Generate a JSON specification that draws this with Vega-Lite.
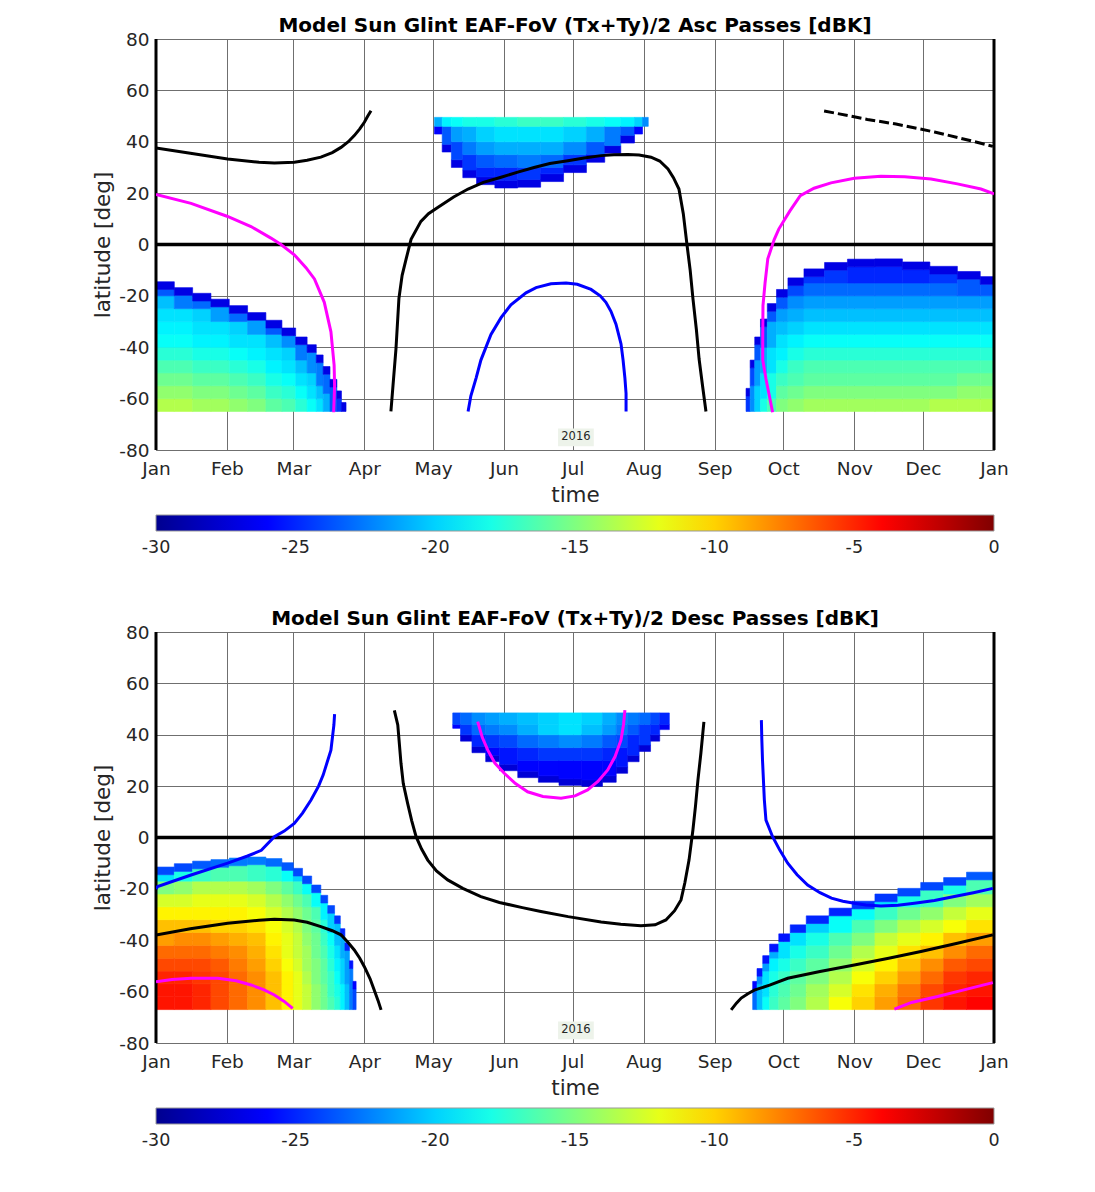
{
"$schema": "https://vega.github.io/schema/vega-lite/v6.json",
"background": "white",
"padding": {"left": 92, "top": 15, "right": 10, "bottom": 10},
"spacing": 50,
"config": {
  "font": "DejaVu Sans",
  "view": {"stroke": "#5a5a5a", "strokeWidth": 1},
  "axis": {"labelFont": "DejaVu Sans", "labelFontSize": 18.5, "labelColor": "#262626", "titleFont": "DejaVu Sans", "titleFontSize": 21.5, "titleFontWeight": "normal", "titleColor": "#262626", "domain": false, "ticks": false, "gridColor": "#6f6f6f", "gridWidth": 1, "zindex": 1, "labelFlush": false},
  "axisX": {"labelPadding": 9, "titlePadding": 7},
  "axisY": {"labelPadding": 7, "titlePadding": 4},
  "title": {"font": "DejaVu Sans", "fontSize": 20, "fontWeight": "bold", "color": "#000000", "offset": -5.5, "anchor": "middle"},
  "legend": {"gradientHorizontalMaxLength": 1000, "labelFont": "DejaVu Sans", "labelFontSize": 17.5, "labelColor": "#262626"}
},
"resolve": {"scale": {"color": "independent"}, "legend": {"color": "independent"}},
"datasets": {
"h1": [
{"d0":0,"d1":8,"y0":-65,"y1":-60,"v":-13.5},{"d0":0,"d1":8,"y0":-60,"y1":-55,"v":-14.5},{"d0":0,"d1":8,"y0":-55,"y1":-50,"v":-15.5},{"d0":0,"d1":8,"y0":-50,"y1":-45,"v":-16.5},{"d0":0,"d1":8,"y0":-45,"y1":-40,"v":-17.5},{"d0":0,"d1":8,"y0":-40,"y1":-35,"v":-18.5},{"d0":0,"d1":8,"y0":-35,"y1":-30,"v":-19},{"d0":0,"d1":8,"y0":-30,"y1":-25,"v":-19.5},{"d0":0,"d1":8,"y0":-25,"y1":-20,"v":-20.5},{"d0":0,"d1":8,"y0":-20,"y1":-17.5,"v":-23.5},{"d0":0,"d1":8,"y0":-17.5,"y1":-14.5,"v":-27},
{"d0":8,"d1":16,"y0":-65,"y1":-60,"v":-13.5},{"d0":8,"d1":16,"y0":-60,"y1":-55,"v":-14.5},{"d0":8,"d1":16,"y0":-55,"y1":-50,"v":-15.5},{"d0":8,"d1":16,"y0":-50,"y1":-45,"v":-16.5},{"d0":8,"d1":16,"y0":-45,"y1":-40,"v":-17.5},{"d0":8,"d1":16,"y0":-40,"y1":-35,"v":-18.5},{"d0":8,"d1":16,"y0":-35,"y1":-30,"v":-19},{"d0":8,"d1":16,"y0":-30,"y1":-25,"v":-19.5},{"d0":8,"d1":16,"y0":-25,"y1":-19.8,"v":-22.5},{"d0":8,"d1":16,"y0":-19.8,"y1":-16.8,"v":-27},
{"d0":16,"d1":24,"y0":-65,"y1":-60,"v":-14},{"d0":16,"d1":24,"y0":-60,"y1":-55,"v":-15},{"d0":16,"d1":24,"y0":-55,"y1":-50,"v":-16},{"d0":16,"d1":24,"y0":-50,"y1":-45,"v":-17},{"d0":16,"d1":24,"y0":-45,"y1":-40,"v":-18},{"d0":16,"d1":24,"y0":-40,"y1":-35,"v":-19},{"d0":16,"d1":24,"y0":-35,"y1":-30,"v":-19.5},{"d0":16,"d1":24,"y0":-30,"y1":-25,"v":-20},{"d0":16,"d1":24,"y0":-25,"y1":-22,"v":-23},{"d0":16,"d1":24,"y0":-22,"y1":-19,"v":-27},
{"d0":24,"d1":32,"y0":-65,"y1":-60,"v":-14},{"d0":24,"d1":32,"y0":-60,"y1":-55,"v":-15},{"d0":24,"d1":32,"y0":-55,"y1":-50,"v":-16},{"d0":24,"d1":32,"y0":-50,"y1":-45,"v":-17},{"d0":24,"d1":32,"y0":-45,"y1":-40,"v":-18},{"d0":24,"d1":32,"y0":-40,"y1":-35,"v":-19},{"d0":24,"d1":32,"y0":-35,"y1":-30,"v":-19.5},{"d0":24,"d1":32,"y0":-30,"y1":-24.3,"v":-21.5},{"d0":24,"d1":32,"y0":-24.3,"y1":-21.3,"v":-27},
{"d0":32,"d1":40,"y0":-65,"y1":-60,"v":-14.5},{"d0":32,"d1":40,"y0":-60,"y1":-55,"v":-15.5},{"d0":32,"d1":40,"y0":-55,"y1":-50,"v":-16.5},{"d0":32,"d1":40,"y0":-50,"y1":-45,"v":-17.5},{"d0":32,"d1":40,"y0":-45,"y1":-40,"v":-18.5},{"d0":32,"d1":40,"y0":-40,"y1":-35,"v":-19.5},{"d0":32,"d1":40,"y0":-35,"y1":-30,"v":-20},{"d0":32,"d1":40,"y0":-30,"y1":-26.8,"v":-23},{"d0":32,"d1":40,"y0":-26.8,"y1":-23.8,"v":-27},
{"d0":40,"d1":48,"y0":-65,"y1":-60,"v":-15},{"d0":40,"d1":48,"y0":-60,"y1":-55,"v":-16},{"d0":40,"d1":48,"y0":-55,"y1":-50,"v":-17},{"d0":40,"d1":48,"y0":-50,"y1":-45,"v":-18},{"d0":40,"d1":48,"y0":-45,"y1":-40,"v":-19},{"d0":40,"d1":48,"y0":-40,"y1":-35,"v":-19.5},{"d0":40,"d1":48,"y0":-35,"y1":-29.5,"v":-21.5},{"d0":40,"d1":48,"y0":-29.5,"y1":-26.5,"v":-27},
{"d0":48,"d1":55,"y0":-65,"y1":-60,"v":-16},{"d0":48,"d1":55,"y0":-60,"y1":-55,"v":-17},{"d0":48,"d1":55,"y0":-55,"y1":-50,"v":-18},{"d0":48,"d1":55,"y0":-50,"y1":-45,"v":-19},{"d0":48,"d1":55,"y0":-45,"y1":-40,"v":-19.5},{"d0":48,"d1":55,"y0":-40,"y1":-35,"v":-20.5},{"d0":48,"d1":55,"y0":-35,"y1":-32.5,"v":-23.5},{"d0":48,"d1":55,"y0":-32.5,"y1":-29.5,"v":-27},
{"d0":55,"d1":61,"y0":-65,"y1":-60,"v":-16.5},{"d0":55,"d1":61,"y0":-60,"y1":-55,"v":-17.5},{"d0":55,"d1":61,"y0":-55,"y1":-50,"v":-18.5},{"d0":55,"d1":61,"y0":-50,"y1":-45,"v":-19.5},{"d0":55,"d1":61,"y0":-45,"y1":-40,"v":-20},{"d0":55,"d1":61,"y0":-40,"y1":-35.5,"v":-22},{"d0":55,"d1":61,"y0":-35.5,"y1":-32.5,"v":-27},
{"d0":61,"d1":66,"y0":-65,"y1":-60,"v":-17.5},{"d0":61,"d1":66,"y0":-60,"y1":-55,"v":-18.5},{"d0":61,"d1":66,"y0":-55,"y1":-50,"v":-19.5},{"d0":61,"d1":66,"y0":-50,"y1":-45,"v":-20.5},{"d0":61,"d1":66,"y0":-45,"y1":-39,"v":-22.5},{"d0":61,"d1":66,"y0":-39,"y1":-36,"v":-27},
{"d0":66,"d1":70,"y0":-65,"y1":-60,"v":-18.5},{"d0":66,"d1":70,"y0":-60,"y1":-55,"v":-19.5},{"d0":66,"d1":70,"y0":-55,"y1":-50,"v":-20},{"d0":66,"d1":70,"y0":-50,"y1":-42,"v":-22},{"d0":66,"d1":70,"y0":-42,"y1":-39,"v":-27},
{"d0":70,"d1":73,"y0":-65,"y1":-60,"v":-19.5},{"d0":70,"d1":73,"y0":-60,"y1":-55,"v":-20.5},{"d0":70,"d1":73,"y0":-55,"y1":-46,"v":-22.5},{"d0":70,"d1":73,"y0":-46,"y1":-43,"v":-27},
{"d0":73,"d1":76,"y0":-65,"y1":-58,"v":-21},{"d0":73,"d1":76,"y0":-58,"y1":-50.5,"v":-23},{"d0":73,"d1":76,"y0":-50.5,"y1":-47.5,"v":-27},
{"d0":76,"d1":79,"y0":-65,"y1":-55.5,"v":-23.5},{"d0":76,"d1":79,"y0":-55.5,"y1":-52.5,"v":-27},
{"d0":79,"d1":81,"y0":-65,"y1":-60,"v":-24.5},{"d0":79,"d1":81,"y0":-60,"y1":-57,"v":-27},
{"d0":81,"d1":83,"y0":-65,"y1":-61.5,"v":-27},
{"d0":121.6,"d1":125,"y0":43,"y1":46,"v":-26},{"d0":121.6,"d1":125,"y0":46,"y1":49.5,"v":-21},
{"d0":125,"d1":129,"y0":36,"y1":39,"v":-27},{"d0":125,"d1":129,"y0":39,"y1":46,"v":-23.5},{"d0":125,"d1":129,"y0":46,"y1":49.5,"v":-19},
{"d0":129,"d1":134,"y0":30,"y1":33,"v":-27},{"d0":129,"d1":134,"y0":33,"y1":40,"v":-24},{"d0":129,"d1":134,"y0":40,"y1":46,"v":-21.5},{"d0":129,"d1":134,"y0":46,"y1":49.5,"v":-18.5},
{"d0":134,"d1":140,"y0":26,"y1":29,"v":-27},{"d0":134,"d1":140,"y0":29,"y1":35,"v":-24.5},{"d0":134,"d1":140,"y0":35,"y1":40,"v":-22.5},{"d0":134,"d1":140,"y0":40,"y1":46,"v":-21},{"d0":134,"d1":140,"y0":46,"y1":49.5,"v":-18},
{"d0":140,"d1":148,"y0":23.3,"y1":26.3,"v":-27},{"d0":140,"d1":148,"y0":26.3,"y1":30,"v":-25},{"d0":140,"d1":148,"y0":30,"y1":35,"v":-23.5},{"d0":140,"d1":148,"y0":35,"y1":40,"v":-21.5},{"d0":140,"d1":148,"y0":40,"y1":46,"v":-20},{"d0":140,"d1":148,"y0":46,"y1":49.5,"v":-18},
{"d0":148,"d1":158,"y0":22,"y1":25,"v":-27},{"d0":148,"d1":158,"y0":25,"y1":30,"v":-25},{"d0":148,"d1":158,"y0":30,"y1":35,"v":-23},{"d0":148,"d1":158,"y0":35,"y1":40,"v":-21},{"d0":148,"d1":158,"y0":40,"y1":46,"v":-19.5},{"d0":148,"d1":158,"y0":46,"y1":49.5,"v":-17.5},
{"d0":158,"d1":168,"y0":22.3,"y1":25.3,"v":-27},{"d0":158,"d1":168,"y0":25.3,"y1":30,"v":-24.5},{"d0":158,"d1":168,"y0":30,"y1":35,"v":-22.5},{"d0":158,"d1":168,"y0":35,"y1":40,"v":-21},{"d0":158,"d1":168,"y0":40,"y1":46,"v":-19.5},{"d0":158,"d1":168,"y0":46,"y1":49.5,"v":-17},
{"d0":168,"d1":178,"y0":24.5,"y1":27.5,"v":-27},{"d0":168,"d1":178,"y0":27.5,"y1":30,"v":-25},{"d0":168,"d1":178,"y0":30,"y1":35,"v":-23},{"d0":168,"d1":178,"y0":35,"y1":40,"v":-21},{"d0":168,"d1":178,"y0":40,"y1":46,"v":-19.5},{"d0":168,"d1":178,"y0":46,"y1":49.5,"v":-17},
{"d0":178,"d1":188,"y0":28,"y1":31,"v":-27},{"d0":178,"d1":188,"y0":31,"y1":35,"v":-24.5},{"d0":178,"d1":188,"y0":35,"y1":40,"v":-22},{"d0":178,"d1":188,"y0":40,"y1":46,"v":-20},{"d0":178,"d1":188,"y0":46,"y1":49.5,"v":-17.5},
{"d0":188,"d1":196,"y0":32,"y1":35,"v":-27},{"d0":188,"d1":196,"y0":35,"y1":40,"v":-23.5},{"d0":188,"d1":196,"y0":40,"y1":46,"v":-21},{"d0":188,"d1":196,"y0":46,"y1":49.5,"v":-18},
{"d0":196,"d1":203,"y0":35.5,"y1":38.5,"v":-27},{"d0":196,"d1":203,"y0":38.5,"y1":46,"v":-22.5},{"d0":196,"d1":203,"y0":46,"y1":49.5,"v":-18.5},
{"d0":203,"d1":209,"y0":39.5,"y1":42.5,"v":-27},{"d0":203,"d1":209,"y0":42.5,"y1":46,"v":-23.5},{"d0":203,"d1":209,"y0":46,"y1":49.5,"v":-19},
{"d0":209,"d1":212.5,"y0":43,"y1":46,"v":-26},{"d0":209,"d1":212.5,"y0":46,"y1":49.5,"v":-20},
{"d0":212.5,"d1":215,"y0":46,"y1":49.5,"v":-22},
{"d0":257.7,"d1":259.5,"y0":-65,"y1":-59,"v":-24.5},{"d0":257.7,"d1":259.5,"y0":-59,"y1":-56,"v":-27},
{"d0":259.5,"d1":261.5,"y0":-65,"y1":-55,"v":-22},{"d0":259.5,"d1":261.5,"y0":-55,"y1":-48,"v":-24},{"d0":259.5,"d1":261.5,"y0":-48,"y1":-45,"v":-27},
{"d0":261.5,"d1":264,"y0":-65,"y1":-55,"v":-20},{"d0":261.5,"d1":264,"y0":-55,"y1":-45,"v":-21.5},{"d0":261.5,"d1":264,"y0":-45,"y1":-39,"v":-23.5},{"d0":261.5,"d1":264,"y0":-39,"y1":-36,"v":-27},
{"d0":264,"d1":267,"y0":-65,"y1":-60,"v":-18},{"d0":264,"d1":267,"y0":-60,"y1":-50,"v":-19.5},{"d0":264,"d1":267,"y0":-50,"y1":-40,"v":-21},{"d0":264,"d1":267,"y0":-40,"y1":-32,"v":-23.5},{"d0":264,"d1":267,"y0":-32,"y1":-29,"v":-27},
{"d0":267,"d1":271,"y0":-65,"y1":-60,"v":-16.5},{"d0":267,"d1":271,"y0":-60,"y1":-50,"v":-18},{"d0":267,"d1":271,"y0":-50,"y1":-40,"v":-19.5},{"d0":267,"d1":271,"y0":-40,"y1":-30,"v":-21},{"d0":267,"d1":271,"y0":-30,"y1":-26,"v":-23.5},{"d0":267,"d1":271,"y0":-26,"y1":-23,"v":-27},
{"d0":271,"d1":276,"y0":-65,"y1":-60,"v":-15},{"d0":271,"d1":276,"y0":-60,"y1":-55,"v":-16},{"d0":271,"d1":276,"y0":-55,"y1":-50,"v":-17},{"d0":271,"d1":276,"y0":-50,"y1":-45,"v":-18},{"d0":271,"d1":276,"y0":-45,"y1":-40,"v":-19},{"d0":271,"d1":276,"y0":-40,"y1":-35,"v":-19.5},{"d0":271,"d1":276,"y0":-35,"y1":-30,"v":-20.5},{"d0":271,"d1":276,"y0":-30,"y1":-25,"v":-21.5},{"d0":271,"d1":276,"y0":-25,"y1":-20.5,"v":-23.5},{"d0":271,"d1":276,"y0":-20.5,"y1":-17.5,"v":-27},
{"d0":276,"d1":283,"y0":-65,"y1":-60,"v":-14.5},{"d0":276,"d1":283,"y0":-60,"y1":-55,"v":-15.5},{"d0":276,"d1":283,"y0":-55,"y1":-50,"v":-16.5},{"d0":276,"d1":283,"y0":-50,"y1":-45,"v":-17},{"d0":276,"d1":283,"y0":-45,"y1":-40,"v":-18},{"d0":276,"d1":283,"y0":-40,"y1":-35,"v":-19},{"d0":276,"d1":283,"y0":-35,"y1":-30,"v":-20},{"d0":276,"d1":283,"y0":-30,"y1":-25,"v":-21},{"d0":276,"d1":283,"y0":-25,"y1":-20,"v":-22},{"d0":276,"d1":283,"y0":-20,"y1":-16,"v":-24},{"d0":276,"d1":283,"y0":-16,"y1":-13,"v":-27},
{"d0":283,"d1":292,"y0":-65,"y1":-60,"v":-14},{"d0":283,"d1":292,"y0":-60,"y1":-55,"v":-15},{"d0":283,"d1":292,"y0":-55,"y1":-50,"v":-16},{"d0":283,"d1":292,"y0":-50,"y1":-45,"v":-16.5},{"d0":283,"d1":292,"y0":-45,"y1":-40,"v":-17.5},{"d0":283,"d1":292,"y0":-40,"y1":-35,"v":-18.5},{"d0":283,"d1":292,"y0":-35,"y1":-30,"v":-19.5},{"d0":283,"d1":292,"y0":-30,"y1":-25,"v":-20.5},{"d0":283,"d1":292,"y0":-25,"y1":-20,"v":-21.5},{"d0":283,"d1":292,"y0":-20,"y1":-15,"v":-23},{"d0":283,"d1":292,"y0":-15,"y1":-12.5,"v":-24.5},{"d0":283,"d1":292,"y0":-12.5,"y1":-9.5,"v":-27},
{"d0":292,"d1":302,"y0":-65,"y1":-60,"v":-14},{"d0":292,"d1":302,"y0":-60,"y1":-55,"v":-15},{"d0":292,"d1":302,"y0":-55,"y1":-50,"v":-16},{"d0":292,"d1":302,"y0":-50,"y1":-45,"v":-16.5},{"d0":292,"d1":302,"y0":-45,"y1":-40,"v":-17.5},{"d0":292,"d1":302,"y0":-40,"y1":-35,"v":-18.5},{"d0":292,"d1":302,"y0":-35,"y1":-30,"v":-19.5},{"d0":292,"d1":302,"y0":-30,"y1":-25,"v":-20.5},{"d0":292,"d1":302,"y0":-25,"y1":-20,"v":-21.5},{"d0":292,"d1":302,"y0":-20,"y1":-15,"v":-23},{"d0":292,"d1":302,"y0":-15,"y1":-10,"v":-24.5},{"d0":292,"d1":302,"y0":-10,"y1":-7,"v":-27},
{"d0":302,"d1":314,"y0":-65,"y1":-60,"v":-14},{"d0":302,"d1":314,"y0":-60,"y1":-55,"v":-15},{"d0":302,"d1":314,"y0":-55,"y1":-50,"v":-16},{"d0":302,"d1":314,"y0":-50,"y1":-45,"v":-16.5},{"d0":302,"d1":314,"y0":-45,"y1":-40,"v":-17.5},{"d0":302,"d1":314,"y0":-40,"y1":-35,"v":-18.5},{"d0":302,"d1":314,"y0":-35,"y1":-30,"v":-19.5},{"d0":302,"d1":314,"y0":-30,"y1":-25,"v":-20.5},{"d0":302,"d1":314,"y0":-25,"y1":-20,"v":-21.5},{"d0":302,"d1":314,"y0":-20,"y1":-15,"v":-23},{"d0":302,"d1":314,"y0":-15,"y1":-8.7,"v":-25},{"d0":302,"d1":314,"y0":-8.7,"y1":-5.7,"v":-27},
{"d0":314,"d1":326,"y0":-65,"y1":-60,"v":-14},{"d0":314,"d1":326,"y0":-60,"y1":-55,"v":-15},{"d0":314,"d1":326,"y0":-55,"y1":-50,"v":-16},{"d0":314,"d1":326,"y0":-50,"y1":-45,"v":-16.5},{"d0":314,"d1":326,"y0":-45,"y1":-40,"v":-17.5},{"d0":314,"d1":326,"y0":-40,"y1":-35,"v":-18.5},{"d0":314,"d1":326,"y0":-35,"y1":-30,"v":-19.5},{"d0":314,"d1":326,"y0":-30,"y1":-25,"v":-20.5},{"d0":314,"d1":326,"y0":-25,"y1":-20,"v":-21.5},{"d0":314,"d1":326,"y0":-20,"y1":-15,"v":-23},{"d0":314,"d1":326,"y0":-15,"y1":-8.6,"v":-25},{"d0":314,"d1":326,"y0":-8.6,"y1":-5.6,"v":-27},
{"d0":326,"d1":338,"y0":-65,"y1":-60,"v":-14},{"d0":326,"d1":338,"y0":-60,"y1":-55,"v":-15},{"d0":326,"d1":338,"y0":-55,"y1":-50,"v":-16},{"d0":326,"d1":338,"y0":-50,"y1":-45,"v":-16.5},{"d0":326,"d1":338,"y0":-45,"y1":-40,"v":-17.5},{"d0":326,"d1":338,"y0":-40,"y1":-35,"v":-18.5},{"d0":326,"d1":338,"y0":-35,"y1":-30,"v":-19.5},{"d0":326,"d1":338,"y0":-30,"y1":-25,"v":-20.5},{"d0":326,"d1":338,"y0":-25,"y1":-20,"v":-21.5},{"d0":326,"d1":338,"y0":-20,"y1":-15,"v":-23},{"d0":326,"d1":338,"y0":-15,"y1":-9.8,"v":-25},{"d0":326,"d1":338,"y0":-9.8,"y1":-6.8,"v":-27},
{"d0":338,"d1":350,"y0":-65,"y1":-60,"v":-13.5},{"d0":338,"d1":350,"y0":-60,"y1":-55,"v":-15},{"d0":338,"d1":350,"y0":-55,"y1":-50,"v":-16},{"d0":338,"d1":350,"y0":-50,"y1":-45,"v":-16.5},{"d0":338,"d1":350,"y0":-45,"y1":-40,"v":-17.5},{"d0":338,"d1":350,"y0":-40,"y1":-35,"v":-18.5},{"d0":338,"d1":350,"y0":-35,"y1":-30,"v":-19.5},{"d0":338,"d1":350,"y0":-30,"y1":-25,"v":-20.5},{"d0":338,"d1":350,"y0":-25,"y1":-20,"v":-21.5},{"d0":338,"d1":350,"y0":-20,"y1":-15,"v":-23},{"d0":338,"d1":350,"y0":-15,"y1":-11.5,"v":-24.5},{"d0":338,"d1":350,"y0":-11.5,"y1":-8.5,"v":-27},
{"d0":350,"d1":360,"y0":-65,"y1":-60,"v":-13.5},{"d0":350,"d1":360,"y0":-60,"y1":-55,"v":-14.5},{"d0":350,"d1":360,"y0":-55,"y1":-50,"v":-15.5},{"d0":350,"d1":360,"y0":-50,"y1":-45,"v":-16.5},{"d0":350,"d1":360,"y0":-45,"y1":-40,"v":-17.5},{"d0":350,"d1":360,"y0":-40,"y1":-35,"v":-18.5},{"d0":350,"d1":360,"y0":-35,"y1":-30,"v":-19.5},{"d0":350,"d1":360,"y0":-30,"y1":-25,"v":-20.5},{"d0":350,"d1":360,"y0":-25,"y1":-20,"v":-21.5},{"d0":350,"d1":360,"y0":-20,"y1":-13.5,"v":-23.5},{"d0":350,"d1":360,"y0":-13.5,"y1":-10.5,"v":-27},
{"d0":360,"d1":366,"y0":-65,"y1":-60,"v":-13.5},{"d0":360,"d1":366,"y0":-60,"y1":-55,"v":-14.5},{"d0":360,"d1":366,"y0":-55,"y1":-50,"v":-15.5},{"d0":360,"d1":366,"y0":-50,"y1":-45,"v":-16.5},{"d0":360,"d1":366,"y0":-45,"y1":-40,"v":-17.5},{"d0":360,"d1":366,"y0":-40,"y1":-35,"v":-18.5},{"d0":360,"d1":366,"y0":-35,"y1":-30,"v":-19.5},{"d0":360,"d1":366,"y0":-30,"y1":-25,"v":-20.5},{"d0":360,"d1":366,"y0":-25,"y1":-20,"v":-21.5},{"d0":360,"d1":366,"y0":-20,"y1":-15.5,"v":-23.5},{"d0":360,"d1":366,"y0":-15.5,"y1":-12.5,"v":-27}
],
"h2": [
{"d0":0,"d1":8,"y0":-67,"y1":-62,"v":-4.5},{"d0":0,"d1":8,"y0":-62,"y1":-57,"v":-4.5},{"d0":0,"d1":8,"y0":-57,"y1":-52,"v":-5},{"d0":0,"d1":8,"y0":-52,"y1":-47,"v":-6},{"d0":0,"d1":8,"y0":-47,"y1":-42,"v":-7},{"d0":0,"d1":8,"y0":-42,"y1":-37,"v":-8.5},{"d0":0,"d1":8,"y0":-37,"y1":-32,"v":-9.5},{"d0":0,"d1":8,"y0":-32,"y1":-27,"v":-11},{"d0":0,"d1":8,"y0":-27,"y1":-22,"v":-12.5},{"d0":0,"d1":8,"y0":-22,"y1":-17,"v":-15},{"d0":0,"d1":8,"y0":-17,"y1":-14.5,"v":-19.5},{"d0":0,"d1":8,"y0":-14.5,"y1":-11.5,"v":-24},
{"d0":8,"d1":16,"y0":-67,"y1":-62,"v":-4.5},{"d0":8,"d1":16,"y0":-62,"y1":-57,"v":-4.5},{"d0":8,"d1":16,"y0":-57,"y1":-52,"v":-5},{"d0":8,"d1":16,"y0":-52,"y1":-47,"v":-6},{"d0":8,"d1":16,"y0":-47,"y1":-42,"v":-7},{"d0":8,"d1":16,"y0":-42,"y1":-37,"v":-8},{"d0":8,"d1":16,"y0":-37,"y1":-32,"v":-9.5},{"d0":8,"d1":16,"y0":-32,"y1":-27,"v":-11},{"d0":8,"d1":16,"y0":-27,"y1":-22,"v":-12.5},{"d0":8,"d1":16,"y0":-22,"y1":-17,"v":-14.5},{"d0":8,"d1":16,"y0":-17,"y1":-13.2,"v":-18},{"d0":8,"d1":16,"y0":-13.2,"y1":-10.2,"v":-24},
{"d0":16,"d1":24,"y0":-67,"y1":-62,"v":-5},{"d0":16,"d1":24,"y0":-62,"y1":-57,"v":-5},{"d0":16,"d1":24,"y0":-57,"y1":-52,"v":-5.5},{"d0":16,"d1":24,"y0":-52,"y1":-47,"v":-6},{"d0":16,"d1":24,"y0":-47,"y1":-42,"v":-7},{"d0":16,"d1":24,"y0":-42,"y1":-37,"v":-8},{"d0":16,"d1":24,"y0":-37,"y1":-32,"v":-9.5},{"d0":16,"d1":24,"y0":-32,"y1":-27,"v":-11},{"d0":16,"d1":24,"y0":-27,"y1":-22,"v":-12},{"d0":16,"d1":24,"y0":-22,"y1":-17,"v":-13.5},{"d0":16,"d1":24,"y0":-17,"y1":-12.2,"v":-17},{"d0":16,"d1":24,"y0":-12.2,"y1":-9.2,"v":-23.5},
{"d0":24,"d1":32,"y0":-67,"y1":-62,"v":-6},{"d0":24,"d1":32,"y0":-62,"y1":-57,"v":-6},{"d0":24,"d1":32,"y0":-57,"y1":-52,"v":-6},{"d0":24,"d1":32,"y0":-52,"y1":-47,"v":-6.5},{"d0":24,"d1":32,"y0":-47,"y1":-42,"v":-7.5},{"d0":24,"d1":32,"y0":-42,"y1":-37,"v":-8.5},{"d0":24,"d1":32,"y0":-37,"y1":-32,"v":-10},{"d0":24,"d1":32,"y0":-32,"y1":-27,"v":-11},{"d0":24,"d1":32,"y0":-27,"y1":-22,"v":-12},{"d0":24,"d1":32,"y0":-22,"y1":-17,"v":-13.5},{"d0":24,"d1":32,"y0":-17,"y1":-11.6,"v":-16.5},{"d0":24,"d1":32,"y0":-11.6,"y1":-8.6,"v":-23},
{"d0":32,"d1":40,"y0":-67,"y1":-62,"v":-7},{"d0":32,"d1":40,"y0":-62,"y1":-57,"v":-7},{"d0":32,"d1":40,"y0":-57,"y1":-52,"v":-7},{"d0":32,"d1":40,"y0":-52,"y1":-47,"v":-7.5},{"d0":32,"d1":40,"y0":-47,"y1":-42,"v":-8},{"d0":32,"d1":40,"y0":-42,"y1":-37,"v":-9},{"d0":32,"d1":40,"y0":-37,"y1":-32,"v":-10},{"d0":32,"d1":40,"y0":-32,"y1":-27,"v":-11},{"d0":32,"d1":40,"y0":-27,"y1":-22,"v":-12},{"d0":32,"d1":40,"y0":-22,"y1":-17,"v":-13.5},{"d0":32,"d1":40,"y0":-17,"y1":-11,"v":-16.5},{"d0":32,"d1":40,"y0":-11,"y1":-8,"v":-22.5},
{"d0":40,"d1":48,"y0":-67,"y1":-62,"v":-8},{"d0":40,"d1":48,"y0":-62,"y1":-57,"v":-8},{"d0":40,"d1":48,"y0":-57,"y1":-52,"v":-8},{"d0":40,"d1":48,"y0":-52,"y1":-47,"v":-8.5},{"d0":40,"d1":48,"y0":-47,"y1":-42,"v":-9},{"d0":40,"d1":48,"y0":-42,"y1":-37,"v":-9.5},{"d0":40,"d1":48,"y0":-37,"y1":-32,"v":-10.5},{"d0":40,"d1":48,"y0":-32,"y1":-27,"v":-11.5},{"d0":40,"d1":48,"y0":-27,"y1":-22,"v":-12.5},{"d0":40,"d1":48,"y0":-22,"y1":-17,"v":-14},{"d0":40,"d1":48,"y0":-17,"y1":-10.6,"v":-17},{"d0":40,"d1":48,"y0":-10.6,"y1":-7.6,"v":-22.5},
{"d0":48,"d1":55,"y0":-67,"y1":-62,"v":-9.5},{"d0":48,"d1":55,"y0":-62,"y1":-57,"v":-9.5},{"d0":48,"d1":55,"y0":-57,"y1":-52,"v":-9.5},{"d0":48,"d1":55,"y0":-52,"y1":-47,"v":-10},{"d0":48,"d1":55,"y0":-47,"y1":-42,"v":-10.5},{"d0":48,"d1":55,"y0":-42,"y1":-37,"v":-11},{"d0":48,"d1":55,"y0":-37,"y1":-32,"v":-11.5},{"d0":48,"d1":55,"y0":-32,"y1":-27,"v":-12.5},{"d0":48,"d1":55,"y0":-27,"y1":-22,"v":-13.5},{"d0":48,"d1":55,"y0":-22,"y1":-17,"v":-15},{"d0":48,"d1":55,"y0":-17,"y1":-11.2,"v":-17.5},{"d0":48,"d1":55,"y0":-11.2,"y1":-8.2,"v":-23},
{"d0":55,"d1":60,"y0":-67,"y1":-62,"v":-11},{"d0":55,"d1":60,"y0":-62,"y1":-57,"v":-11},{"d0":55,"d1":60,"y0":-57,"y1":-52,"v":-11},{"d0":55,"d1":60,"y0":-52,"y1":-47,"v":-11.5},{"d0":55,"d1":60,"y0":-47,"y1":-42,"v":-12},{"d0":55,"d1":60,"y0":-42,"y1":-37,"v":-12},{"d0":55,"d1":60,"y0":-37,"y1":-32,"v":-12.5},{"d0":55,"d1":60,"y0":-32,"y1":-27,"v":-13.5},{"d0":55,"d1":60,"y0":-27,"y1":-22,"v":-14.5},{"d0":55,"d1":60,"y0":-22,"y1":-17,"v":-16},{"d0":55,"d1":60,"y0":-17,"y1":-12.8,"v":-18.5},{"d0":55,"d1":60,"y0":-12.8,"y1":-9.8,"v":-23.5},
{"d0":60,"d1":64,"y0":-67,"y1":-62,"v":-12},{"d0":60,"d1":64,"y0":-62,"y1":-57,"v":-12},{"d0":60,"d1":64,"y0":-57,"y1":-52,"v":-12},{"d0":60,"d1":64,"y0":-52,"y1":-47,"v":-12.5},{"d0":60,"d1":64,"y0":-47,"y1":-42,"v":-13},{"d0":60,"d1":64,"y0":-42,"y1":-37,"v":-13},{"d0":60,"d1":64,"y0":-37,"y1":-32,"v":-13.5},{"d0":60,"d1":64,"y0":-32,"y1":-27,"v":-14.5},{"d0":60,"d1":64,"y0":-27,"y1":-22,"v":-15.5},{"d0":60,"d1":64,"y0":-22,"y1":-17,"v":-17},{"d0":60,"d1":64,"y0":-17,"y1":-15,"v":-20},{"d0":60,"d1":64,"y0":-15,"y1":-12,"v":-24},
{"d0":64,"d1":68,"y0":-67,"y1":-62,"v":-13},{"d0":64,"d1":68,"y0":-62,"y1":-57,"v":-13},{"d0":64,"d1":68,"y0":-57,"y1":-52,"v":-13.5},{"d0":64,"d1":68,"y0":-52,"y1":-47,"v":-14},{"d0":64,"d1":68,"y0":-47,"y1":-42,"v":-14},{"d0":64,"d1":68,"y0":-42,"y1":-37,"v":-14.5},{"d0":64,"d1":68,"y0":-37,"y1":-32,"v":-15},{"d0":64,"d1":68,"y0":-32,"y1":-27,"v":-15.5},{"d0":64,"d1":68,"y0":-27,"y1":-22,"v":-16.5},{"d0":64,"d1":68,"y0":-22,"y1":-18,"v":-18.5},{"d0":64,"d1":68,"y0":-18,"y1":-15,"v":-24},
{"d0":68,"d1":72,"y0":-67,"y1":-62,"v":-14.5},{"d0":68,"d1":72,"y0":-62,"y1":-57,"v":-14.5},{"d0":68,"d1":72,"y0":-57,"y1":-52,"v":-15},{"d0":68,"d1":72,"y0":-52,"y1":-47,"v":-15},{"d0":68,"d1":72,"y0":-47,"y1":-42,"v":-15.5},{"d0":68,"d1":72,"y0":-42,"y1":-37,"v":-15.5},{"d0":68,"d1":72,"y0":-37,"y1":-32,"v":-16},{"d0":68,"d1":72,"y0":-32,"y1":-27,"v":-16.5},{"d0":68,"d1":72,"y0":-27,"y1":-21.5,"v":-18.5},{"d0":68,"d1":72,"y0":-21.5,"y1":-18.5,"v":-24},
{"d0":72,"d1":75,"y0":-67,"y1":-62,"v":-15.5},{"d0":72,"d1":75,"y0":-62,"y1":-57,"v":-15.5},{"d0":72,"d1":75,"y0":-57,"y1":-52,"v":-16},{"d0":72,"d1":75,"y0":-52,"y1":-47,"v":-16},{"d0":72,"d1":75,"y0":-47,"y1":-42,"v":-16.5},{"d0":72,"d1":75,"y0":-42,"y1":-37,"v":-17},{"d0":72,"d1":75,"y0":-37,"y1":-32,"v":-17.5},{"d0":72,"d1":75,"y0":-32,"y1":-25.5,"v":-19},{"d0":72,"d1":75,"y0":-25.5,"y1":-22.5,"v":-24},
{"d0":75,"d1":78,"y0":-67,"y1":-62,"v":-16.5},{"d0":75,"d1":78,"y0":-62,"y1":-57,"v":-17},{"d0":75,"d1":78,"y0":-57,"y1":-52,"v":-17},{"d0":75,"d1":78,"y0":-52,"y1":-47,"v":-17.5},{"d0":75,"d1":78,"y0":-47,"y1":-42,"v":-18},{"d0":75,"d1":78,"y0":-42,"y1":-37,"v":-18.5},{"d0":75,"d1":78,"y0":-37,"y1":-29.5,"v":-20},{"d0":75,"d1":78,"y0":-29.5,"y1":-26.5,"v":-24},
{"d0":78,"d1":80.5,"y0":-67,"y1":-62,"v":-17.5},{"d0":78,"d1":80.5,"y0":-62,"y1":-57,"v":-18},{"d0":78,"d1":80.5,"y0":-57,"y1":-52,"v":-18.5},{"d0":78,"d1":80.5,"y0":-52,"y1":-47,"v":-19},{"d0":78,"d1":80.5,"y0":-47,"y1":-42,"v":-19.5},{"d0":78,"d1":80.5,"y0":-42,"y1":-33.5,"v":-20.5},{"d0":78,"d1":80.5,"y0":-33.5,"y1":-30.5,"v":-24.5},
{"d0":80.5,"d1":82.5,"y0":-67,"y1":-57,"v":-19},{"d0":80.5,"d1":82.5,"y0":-57,"y1":-47,"v":-20},{"d0":80.5,"d1":82.5,"y0":-47,"y1":-38.5,"v":-21},{"d0":80.5,"d1":82.5,"y0":-38.5,"y1":-35.5,"v":-25},
{"d0":82.5,"d1":84.5,"y0":-67,"y1":-57,"v":-20.5},{"d0":82.5,"d1":84.5,"y0":-57,"y1":-44,"v":-21.5},{"d0":82.5,"d1":84.5,"y0":-44,"y1":-41,"v":-25},
{"d0":84.5,"d1":86,"y0":-67,"y1":-51,"v":-22.5},{"d0":84.5,"d1":86,"y0":-51,"y1":-48,"v":-25.5},
{"d0":86,"d1":87.4,"y0":-67,"y1":-59,"v":-24},{"d0":86,"d1":87.4,"y0":-59,"y1":-56,"v":-26},
{"d0":129.6,"d1":133,"y0":42.5,"y1":44,"v":-26},{"d0":129.6,"d1":133,"y0":44,"y1":48.5,"v":-24},
{"d0":133,"d1":138,"y0":37.5,"y1":40,"v":-27.5},{"d0":133,"d1":138,"y0":40,"y1":44,"v":-24.5},{"d0":133,"d1":138,"y0":44,"y1":48.5,"v":-23},
{"d0":138,"d1":144,"y0":33,"y1":35.5,"v":-27.5},{"d0":138,"d1":144,"y0":35.5,"y1":40,"v":-25},{"d0":138,"d1":144,"y0":40,"y1":44,"v":-23},{"d0":138,"d1":144,"y0":44,"y1":48.5,"v":-22},
{"d0":144,"d1":150,"y0":29.5,"y1":32,"v":-27.5},{"d0":144,"d1":150,"y0":32,"y1":35,"v":-26},{"d0":144,"d1":150,"y0":35,"y1":40,"v":-24.5},{"d0":144,"d1":150,"y0":40,"y1":44,"v":-22.5},{"d0":144,"d1":150,"y0":44,"y1":48.5,"v":-21.5},
{"d0":150,"d1":158,"y0":26,"y1":28.5,"v":-27.5},{"d0":150,"d1":158,"y0":28.5,"y1":35,"v":-25.5},{"d0":150,"d1":158,"y0":35,"y1":40,"v":-24},{"d0":150,"d1":158,"y0":40,"y1":44,"v":-22},{"d0":150,"d1":158,"y0":44,"y1":48.5,"v":-21},
{"d0":158,"d1":167,"y0":23.3,"y1":25.8,"v":-27.5},{"d0":158,"d1":167,"y0":25.8,"y1":30,"v":-26},{"d0":158,"d1":167,"y0":30,"y1":35,"v":-25},{"d0":158,"d1":167,"y0":35,"y1":40,"v":-23},{"d0":158,"d1":167,"y0":40,"y1":44,"v":-21},{"d0":158,"d1":167,"y0":44,"y1":48.5,"v":-20.5},
{"d0":167,"d1":176,"y0":21.5,"y1":24,"v":-27.5},{"d0":167,"d1":176,"y0":24,"y1":30,"v":-26},{"d0":167,"d1":176,"y0":30,"y1":35,"v":-24.5},{"d0":167,"d1":176,"y0":35,"y1":40,"v":-22.5},{"d0":167,"d1":176,"y0":40,"y1":44,"v":-20},{"d0":167,"d1":176,"y0":44,"y1":48.5,"v":-20},
{"d0":176,"d1":186,"y0":20.3,"y1":22.8,"v":-27.5},{"d0":176,"d1":186,"y0":22.8,"y1":30,"v":-26},{"d0":176,"d1":186,"y0":30,"y1":35,"v":-24.5},{"d0":176,"d1":186,"y0":35,"y1":40,"v":-22},{"d0":176,"d1":186,"y0":40,"y1":44,"v":-19.5},{"d0":176,"d1":186,"y0":44,"y1":48.5,"v":-19.5},
{"d0":186,"d1":195,"y0":19.9,"y1":22.4,"v":-27.5},{"d0":186,"d1":195,"y0":22.4,"y1":30,"v":-26},{"d0":186,"d1":195,"y0":30,"y1":35,"v":-24.5},{"d0":186,"d1":195,"y0":35,"y1":40,"v":-22.5},{"d0":186,"d1":195,"y0":40,"y1":44,"v":-20.5},{"d0":186,"d1":195,"y0":44,"y1":48.5,"v":-20},
{"d0":195,"d1":201,"y0":21.5,"y1":24,"v":-27.5},{"d0":195,"d1":201,"y0":24,"y1":30,"v":-26},{"d0":195,"d1":201,"y0":30,"y1":35,"v":-25},{"d0":195,"d1":201,"y0":35,"y1":40,"v":-23.5},{"d0":195,"d1":201,"y0":40,"y1":44,"v":-21.5},{"d0":195,"d1":201,"y0":44,"y1":48.5,"v":-21},
{"d0":201,"d1":206,"y0":25,"y1":27.5,"v":-27.5},{"d0":201,"d1":206,"y0":27.5,"y1":35,"v":-25.5},{"d0":201,"d1":206,"y0":35,"y1":40,"v":-24},{"d0":201,"d1":206,"y0":40,"y1":44,"v":-22.5},{"d0":201,"d1":206,"y0":44,"y1":48.5,"v":-22},
{"d0":206,"d1":211,"y0":29.5,"y1":32,"v":-27.5},{"d0":206,"d1":211,"y0":32,"y1":40,"v":-25},{"d0":206,"d1":211,"y0":40,"y1":44,"v":-23.5},{"d0":206,"d1":211,"y0":44,"y1":48.5,"v":-22.5},
{"d0":211,"d1":216,"y0":33.5,"y1":36,"v":-27.5},{"d0":211,"d1":216,"y0":36,"y1":44,"v":-24.5},{"d0":211,"d1":216,"y0":44,"y1":48.5,"v":-23},
{"d0":216,"d1":220,"y0":37.5,"y1":40,"v":-27.5},{"d0":216,"d1":220,"y0":40,"y1":44,"v":-25},{"d0":216,"d1":220,"y0":44,"y1":48.5,"v":-24},
{"d0":220,"d1":224.2,"y0":42,"y1":44,"v":-26.5},{"d0":220,"d1":224.2,"y0":44,"y1":48.5,"v":-25},
{"d0":260.6,"d1":262.5,"y0":-67,"y1":-59,"v":-23},{"d0":260.6,"d1":262.5,"y0":-59,"y1":-56,"v":-26},
{"d0":262.5,"d1":265,"y0":-67,"y1":-57,"v":-20.5},{"d0":262.5,"d1":265,"y0":-57,"y1":-54,"v":-22},{"d0":262.5,"d1":265,"y0":-54,"y1":-51,"v":-25.5},
{"d0":265,"d1":268,"y0":-67,"y1":-62,"v":-18.5},{"d0":265,"d1":268,"y0":-62,"y1":-52,"v":-19.5},{"d0":265,"d1":268,"y0":-52,"y1":-49,"v":-21.5},{"d0":265,"d1":268,"y0":-49,"y1":-46,"v":-25.5},
{"d0":268,"d1":272,"y0":-67,"y1":-62,"v":-17},{"d0":268,"d1":272,"y0":-62,"y1":-57,"v":-17.5},{"d0":268,"d1":272,"y0":-57,"y1":-52,"v":-18},{"d0":268,"d1":272,"y0":-52,"y1":-47,"v":-19},{"d0":268,"d1":272,"y0":-47,"y1":-44.5,"v":-21},{"d0":268,"d1":272,"y0":-44.5,"y1":-41.5,"v":-25.5},
{"d0":272,"d1":277,"y0":-67,"y1":-62,"v":-16},{"d0":272,"d1":277,"y0":-62,"y1":-57,"v":-16.5},{"d0":272,"d1":277,"y0":-57,"y1":-52,"v":-17},{"d0":272,"d1":277,"y0":-52,"y1":-47,"v":-18},{"d0":272,"d1":277,"y0":-47,"y1":-40.5,"v":-19.5},{"d0":272,"d1":277,"y0":-40.5,"y1":-37.5,"v":-25.5},
{"d0":277,"d1":284,"y0":-67,"y1":-62,"v":-15},{"d0":277,"d1":284,"y0":-62,"y1":-57,"v":-15.5},{"d0":277,"d1":284,"y0":-57,"y1":-52,"v":-16},{"d0":277,"d1":284,"y0":-52,"y1":-47,"v":-17},{"d0":277,"d1":284,"y0":-47,"y1":-42,"v":-18},{"d0":277,"d1":284,"y0":-42,"y1":-37,"v":-19.5},{"d0":277,"d1":284,"y0":-37,"y1":-34,"v":-25},
{"d0":284,"d1":294,"y0":-67,"y1":-62,"v":-13.5},{"d0":284,"d1":294,"y0":-62,"y1":-57,"v":-14},{"d0":284,"d1":294,"y0":-57,"y1":-52,"v":-15},{"d0":284,"d1":294,"y0":-52,"y1":-47,"v":-16},{"d0":284,"d1":294,"y0":-47,"y1":-42,"v":-17},{"d0":284,"d1":294,"y0":-42,"y1":-37,"v":-18},{"d0":284,"d1":294,"y0":-37,"y1":-33.5,"v":-20},{"d0":284,"d1":294,"y0":-33.5,"y1":-30.5,"v":-25},
{"d0":294,"d1":304,"y0":-67,"y1":-62,"v":-11.5},{"d0":294,"d1":304,"y0":-62,"y1":-57,"v":-12.5},{"d0":294,"d1":304,"y0":-57,"y1":-52,"v":-13.5},{"d0":294,"d1":304,"y0":-52,"y1":-47,"v":-14.5},{"d0":294,"d1":304,"y0":-47,"y1":-42,"v":-15.5},{"d0":294,"d1":304,"y0":-42,"y1":-37,"v":-16.5},{"d0":294,"d1":304,"y0":-37,"y1":-30.5,"v":-18.5},{"d0":294,"d1":304,"y0":-30.5,"y1":-27.5,"v":-25},
{"d0":304,"d1":314,"y0":-67,"y1":-62,"v":-10},{"d0":304,"d1":314,"y0":-62,"y1":-57,"v":-10.5},{"d0":304,"d1":314,"y0":-57,"y1":-52,"v":-11.5},{"d0":304,"d1":314,"y0":-52,"y1":-47,"v":-12.5},{"d0":304,"d1":314,"y0":-47,"y1":-42,"v":-13.5},{"d0":304,"d1":314,"y0":-42,"y1":-37,"v":-15},{"d0":304,"d1":314,"y0":-37,"y1":-32,"v":-16.5},{"d0":304,"d1":314,"y0":-32,"y1":-27.8,"v":-18.5},{"d0":304,"d1":314,"y0":-27.8,"y1":-24.8,"v":-24.5},
{"d0":314,"d1":324,"y0":-67,"y1":-62,"v":-8.5},{"d0":314,"d1":324,"y0":-62,"y1":-57,"v":-9},{"d0":314,"d1":324,"y0":-57,"y1":-52,"v":-10},{"d0":314,"d1":324,"y0":-52,"y1":-47,"v":-11},{"d0":314,"d1":324,"y0":-47,"y1":-42,"v":-12},{"d0":314,"d1":324,"y0":-42,"y1":-37,"v":-13},{"d0":314,"d1":324,"y0":-37,"y1":-32,"v":-15},{"d0":314,"d1":324,"y0":-32,"y1":-27,"v":-17},{"d0":314,"d1":324,"y0":-27,"y1":-25,"v":-19.5},{"d0":314,"d1":324,"y0":-25,"y1":-22,"v":-24.5},
{"d0":324,"d1":334,"y0":-67,"y1":-62,"v":-7},{"d0":324,"d1":334,"y0":-62,"y1":-57,"v":-7.5},{"d0":324,"d1":334,"y0":-57,"y1":-52,"v":-8.5},{"d0":324,"d1":334,"y0":-52,"y1":-47,"v":-9.5},{"d0":324,"d1":334,"y0":-47,"y1":-42,"v":-10.5},{"d0":324,"d1":334,"y0":-42,"y1":-37,"v":-12},{"d0":324,"d1":334,"y0":-37,"y1":-32,"v":-13.5},{"d0":324,"d1":334,"y0":-32,"y1":-27,"v":-15.5},{"d0":324,"d1":334,"y0":-27,"y1":-22.8,"v":-18},{"d0":324,"d1":334,"y0":-22.8,"y1":-19.8,"v":-24},
{"d0":334,"d1":344,"y0":-67,"y1":-62,"v":-5.5},{"d0":334,"d1":344,"y0":-62,"y1":-57,"v":-6},{"d0":334,"d1":344,"y0":-57,"y1":-52,"v":-7},{"d0":334,"d1":344,"y0":-52,"y1":-47,"v":-8},{"d0":334,"d1":344,"y0":-47,"y1":-42,"v":-9.5},{"d0":334,"d1":344,"y0":-42,"y1":-37,"v":-11},{"d0":334,"d1":344,"y0":-37,"y1":-32,"v":-12.5},{"d0":334,"d1":344,"y0":-32,"y1":-27,"v":-14.5},{"d0":334,"d1":344,"y0":-27,"y1":-20.5,"v":-17},{"d0":334,"d1":344,"y0":-20.5,"y1":-17.5,"v":-24},
{"d0":344,"d1":354,"y0":-67,"y1":-62,"v":-4.5},{"d0":344,"d1":354,"y0":-62,"y1":-57,"v":-5},{"d0":344,"d1":354,"y0":-57,"y1":-52,"v":-5.5},{"d0":344,"d1":354,"y0":-52,"y1":-47,"v":-6.5},{"d0":344,"d1":354,"y0":-47,"y1":-42,"v":-8},{"d0":344,"d1":354,"y0":-42,"y1":-37,"v":-9.5},{"d0":344,"d1":354,"y0":-37,"y1":-32,"v":-11.5},{"d0":344,"d1":354,"y0":-32,"y1":-27,"v":-13},{"d0":344,"d1":354,"y0":-27,"y1":-22,"v":-15},{"d0":344,"d1":354,"y0":-22,"y1":-18.6,"v":-18},{"d0":344,"d1":354,"y0":-18.6,"y1":-15.6,"v":-24},
{"d0":354,"d1":366,"y0":-67,"y1":-62,"v":-4},{"d0":354,"d1":366,"y0":-62,"y1":-57,"v":-4.5},{"d0":354,"d1":366,"y0":-57,"y1":-52,"v":-5},{"d0":354,"d1":366,"y0":-52,"y1":-47,"v":-6},{"d0":354,"d1":366,"y0":-47,"y1":-42,"v":-7},{"d0":354,"d1":366,"y0":-42,"y1":-37,"v":-8.5},{"d0":354,"d1":366,"y0":-37,"y1":-32,"v":-10.5},{"d0":354,"d1":366,"y0":-32,"y1":-27,"v":-12},{"d0":354,"d1":366,"y0":-27,"y1":-22,"v":-14},{"d0":354,"d1":366,"y0":-22,"y1":-16.5,"v":-16.5},{"d0":354,"d1":366,"y0":-16.5,"y1":-13.5,"v":-23.5}
],
"p1k": [
{"s":"a","d":0,"lat":37.6},{"s":"a","d":15,"lat":35.5},{"s":"a","d":31.3,"lat":33.3},{"s":"a","d":45,"lat":32},{"s":"a","d":51.7,"lat":31.7},{"s":"a","d":60.4,"lat":32},{"s":"a","d":66,"lat":32.8},{"s":"a","d":72,"lat":34},{"s":"a","d":77,"lat":35.8},{"s":"a","d":80.8,"lat":37.8},{"s":"a","d":84,"lat":40},{"s":"a","d":86.6,"lat":42.4},{"s":"a","d":89,"lat":45},{"s":"a","d":91,"lat":47.6},{"s":"a","d":92.5,"lat":50},{"s":"a","d":93.9,"lat":52.1},
{"s":"b","d":102.6,"lat":-65},{"s":"b","d":103.5,"lat":-55},{"s":"b","d":104.8,"lat":-40.7},{"s":"b","d":106.1,"lat":-21},{"s":"b","d":107.5,"lat":-12},{"s":"b","d":109.2,"lat":-5.8},{"s":"b","d":111.4,"lat":2},{"s":"b","d":115.7,"lat":9},{"s":"b","d":119,"lat":12},{"s":"b","d":123.2,"lat":14.5},{"s":"b","d":130,"lat":18.5},{"s":"b","d":136.3,"lat":21.6},{"s":"b","d":143,"lat":24.2},{"s":"b","d":150.7,"lat":26.2},{"s":"b","d":158,"lat":28.2},{"s":"b","d":165.1,"lat":30},{"s":"b","d":172,"lat":31.5},{"s":"b","d":179.9,"lat":32.6},{"s":"b","d":187,"lat":33.7},{"s":"b","d":194.4,"lat":34.6},{"s":"b","d":200,"lat":34.9},{"s":"b","d":206.1,"lat":35},{"s":"b","d":211,"lat":34.8},{"s":"b","d":216.2,"lat":34},{"s":"b","d":220,"lat":32.5},{"s":"b","d":223.6,"lat":29.4},{"s":"b","d":226,"lat":26},{"s":"b","d":228.4,"lat":21.6},{"s":"b","d":230.3,"lat":12},{"s":"b","d":231.9,"lat":0},{"s":"b","d":233.3,"lat":-10},{"s":"b","d":234.5,"lat":-21},{"s":"b","d":236,"lat":-33},{"s":"b","d":237.2,"lat":-44.6},{"s":"b","d":238.7,"lat":-55},{"s":"b","d":240.2,"lat":-65}
],
"p1b": [
{"s":"c","d":136.3,"lat":-65},{"s":"c","d":137.5,"lat":-59},{"s":"c","d":139.8,"lat":-52},{"s":"c","d":141.9,"lat":-45},{"s":"c","d":146.3,"lat":-35},{"s":"c","d":150.7,"lat":-28.5},{"s":"c","d":155,"lat":-23.5},{"s":"c","d":161.6,"lat":-18.8},{"s":"c","d":166,"lat":-16.8},{"s":"c","d":172.5,"lat":-15.3},{"s":"c","d":179.1,"lat":-15},{"s":"c","d":184,"lat":-15.5},{"s":"c","d":190,"lat":-17.5},{"s":"c","d":194,"lat":-20},{"s":"c","d":196.5,"lat":-22.5},{"s":"c","d":198.7,"lat":-26},{"s":"c","d":200.9,"lat":-31},{"s":"c","d":203.1,"lat":-38.7},{"s":"c","d":204,"lat":-45},{"s":"c","d":204.8,"lat":-52},{"s":"c","d":205.3,"lat":-58},{"s":"c","d":205.3,"lat":-65}
],
"p1m": [
{"s":"d","d":0,"lat":19.5},{"s":"d","d":15.3,"lat":16},{"s":"d","d":31,"lat":11},{"s":"d","d":41.5,"lat":7},{"s":"d","d":50.2,"lat":2.5},{"s":"d","d":54.6,"lat":0},{"s":"d","d":60.4,"lat":-4},{"s":"d","d":65.5,"lat":-9},{"s":"d","d":69.2,"lat":-13.4},{"s":"d","d":73.5,"lat":-22.5},{"s":"d","d":76.4,"lat":-34},{"s":"d","d":77.8,"lat":-47},{"s":"d","d":78,"lat":-55},{"s":"d","d":77.6,"lat":-65.3},
{"s":"e","d":269.3,"lat":-65.3},{"s":"e","d":266.4,"lat":-52.3},{"s":"e","d":265,"lat":-45},{"s":"e","d":265,"lat":-36.8},{"s":"e","d":265.1,"lat":-23.8},{"s":"e","d":266,"lat":-15},{"s":"e","d":267.2,"lat":-5.6},{"s":"e","d":270,"lat":1.9},{"s":"e","d":272,"lat":6},{"s":"e","d":276.8,"lat":13},{"s":"e","d":281.4,"lat":19},{"s":"e","d":287.4,"lat":21.9},{"s":"e","d":294.8,"lat":24},{"s":"e","d":305,"lat":25.8},{"s":"e","d":316.6,"lat":26.6},{"s":"e","d":327,"lat":26.4},{"s":"e","d":338.5,"lat":25.5},{"s":"e","d":350,"lat":23.6},{"s":"e","d":360.3,"lat":21.6},{"s":"e","d":366,"lat":19.7}
],
"p1d": [
{"s":"f","d":291.8,"lat":52},{"s":"f","d":310.7,"lat":48.7},{"s":"f","d":323.2,"lat":46.9},{"s":"f","d":340,"lat":43.8},{"s":"f","d":355,"lat":40.6},{"s":"f","d":365.5,"lat":38.2}
],
"p2k": [
{"s":"h","d":0,"lat":-38},{"s":"h","d":15,"lat":-35.5},{"s":"h","d":31.3,"lat":-33.4},{"s":"h","d":45,"lat":-32.2},{"s":"h","d":51.7,"lat":-31.8},{"s":"h","d":60.4,"lat":-32.1},{"s":"h","d":66,"lat":-33},{"s":"h","d":72,"lat":-34.7},{"s":"h","d":77,"lat":-36.3},{"s":"h","d":80.8,"lat":-37.9},{"s":"h","d":84,"lat":-41},{"s":"h","d":86.6,"lat":-43.8},{"s":"h","d":89,"lat":-47},{"s":"h","d":91,"lat":-50.3},{"s":"h","d":93.5,"lat":-55},{"s":"h","d":95.3,"lat":-59.4},{"s":"h","d":97,"lat":-63.5},{"s":"h","d":98.3,"lat":-67.1},
{"s":"j","d":104.1,"lat":49.5},{"s":"j","d":105.6,"lat":43.8},{"s":"j","d":107,"lat":28.9},{"s":"j","d":108,"lat":21},{"s":"j","d":109.9,"lat":13.3},{"s":"j","d":111.7,"lat":6.5},{"s":"j","d":113.6,"lat":0.3},{"s":"j","d":116,"lat":-4.5},{"s":"j","d":118.7,"lat":-8.8},{"s":"j","d":122.5,"lat":-13},{"s":"j","d":127.4,"lat":-16.5},{"s":"j","d":134,"lat":-19.8},{"s":"j","d":141.9,"lat":-23},{"s":"j","d":150,"lat":-25.3},{"s":"j","d":160,"lat":-27.3},{"s":"j","d":168.1,"lat":-28.8},{"s":"j","d":180,"lat":-30.8},{"s":"j","d":194.4,"lat":-32.9},{"s":"j","d":203,"lat":-33.8},{"s":"j","d":211.8,"lat":-34.4},{"s":"j","d":218,"lat":-34},{"s":"j","d":222.7,"lat":-32.1},{"s":"j","d":226.5,"lat":-28.5},{"s":"j","d":229.3,"lat":-24.3},{"s":"j","d":231,"lat":-17.5},{"s":"j","d":232.8,"lat":-8.8},{"s":"j","d":234.5,"lat":2.9},{"s":"j","d":235.6,"lat":12},{"s":"j","d":236.7,"lat":22.4},{"s":"j","d":238,"lat":33},{"s":"j","d":239.3,"lat":45},
{"s":"m","d":251.2,"lat":-67.1},{"s":"m","d":253.5,"lat":-64.5},{"s":"m","d":255.6,"lat":-62.5},{"s":"m","d":258.5,"lat":-60.8},{"s":"m","d":261.3,"lat":-59.4},{"s":"m","d":268,"lat":-57.5},{"s":"m","d":275.9,"lat":-54.8},{"s":"m","d":290,"lat":-52.2},{"s":"m","d":305,"lat":-49.6},{"s":"m","d":320,"lat":-47},{"s":"m","d":334.1,"lat":-44.4},{"s":"m","d":350,"lat":-41.2},{"s":"m","d":365.5,"lat":-37.9}
],
"p2m": [
{"s":"i","d":0,"lat":-56.2},{"s":"i","d":7,"lat":-55.3},{"s":"i","d":15.3,"lat":-54.8},{"s":"i","d":27,"lat":-54.8},{"s":"i","d":35,"lat":-55.8},{"s":"i","d":41.5,"lat":-57.4},{"s":"i","d":47,"lat":-59.2},{"s":"i","d":51.7,"lat":-61.3},{"s":"i","d":56,"lat":-63.8},{"s":"i","d":59.7,"lat":-66.5},
{"s":"k","d":140.5,"lat":45.1},{"s":"k","d":142.5,"lat":39},{"s":"k","d":144.9,"lat":34},{"s":"k","d":148,"lat":29},{"s":"k","d":152.1,"lat":25},{"s":"k","d":157,"lat":21},{"s":"k","d":162.3,"lat":17.8},{"s":"k","d":169,"lat":16},{"s":"k","d":176.9,"lat":15.3},{"s":"k","d":183,"lat":16.2},{"s":"k","d":188.5,"lat":18.5},{"s":"k","d":193,"lat":21.8},{"s":"k","d":197.3,"lat":26.3},{"s":"k","d":200.5,"lat":31.5},{"s":"k","d":203.1,"lat":38},{"s":"k","d":204.2,"lat":44},{"s":"k","d":204.8,"lat":49.6},
{"s":"n","d":322.5,"lat":-66.8},{"s":"n","d":330,"lat":-64.2},{"s":"n","d":341.4,"lat":-61.9},{"s":"n","d":352,"lat":-59.5},{"s":"n","d":365.5,"lat":-56.5}
],
"p2b": [
{"s":"g","d":0,"lat":-20},{"s":"g","d":0.7,"lat":-19.1},{"s":"g","d":15.3,"lat":-14.6},{"s":"g","d":31.3,"lat":-10},{"s":"g","d":40,"lat":-7.2},{"s":"g","d":46,"lat":-5},{"s":"g","d":51.7,"lat":0.3},{"s":"g","d":56,"lat":2.5},{"s":"g","d":60.4,"lat":5.5},{"s":"g","d":64,"lat":9.5},{"s":"g","d":67.7,"lat":14.6},{"s":"g","d":71,"lat":20},{"s":"g","d":73,"lat":24.3},{"s":"g","d":76.4,"lat":34},{"s":"g","d":77.7,"lat":43.8},{"s":"g","d":78,"lat":48},
{"s":"l","d":264.4,"lat":45.7},{"s":"l","d":264.6,"lat":38},{"s":"l","d":264.9,"lat":30},{"s":"l","d":265.7,"lat":14.6},{"s":"l","d":266.4,"lat":6.8},{"s":"l","d":269.3,"lat":0.3},{"s":"l","d":272.5,"lat":-5},{"s":"l","d":275.9,"lat":-10},{"s":"l","d":280,"lat":-14.5},{"s":"l","d":284.6,"lat":-18.5},{"s":"l","d":290,"lat":-21.5},{"s":"l","d":295,"lat":-23.6},{"s":"l","d":300,"lat":-24.8},{"s":"l","d":305,"lat":-25.6},{"s":"l","d":310,"lat":-26.3},{"s":"l","d":316.6,"lat":-26.7},{"s":"l","d":324,"lat":-26.4},{"s":"l","d":331.2,"lat":-25.6},{"s":"l","d":340,"lat":-24.5},{"s":"l","d":348.7,"lat":-23},{"s":"l","d":357,"lat":-21.5},{"s":"l","d":365.5,"lat":-19.8}
]
},
"vconcat": [
{
"width": 838, "height": 411,
"title": {"text": "Model Sun Glint EAF-FoV (Tx+Ty)/2 Asc Passes [dBK]"},
"layer": [
{"data": {"name": "h1"}, "mark": {"type": "rect", "strokeWidth": 0.6},
 "encoding": {
  "x": {"field": "d0", "type": "quantitative", "title": "time", "scale": {"domain": [0, 366], "nice": false, "zero": false},
        "axis": {"values": [0,31,60,91,121,152,182,213,244,274,305,335,366], "labelExpr": "['Jan','Feb','Mar','Apr','May','Jun','Jul','Aug','Sep','Oct','Nov','Dec','Jan'][indexof([0,31,60,91,121,152,182,213,244,274,305,335,366], datum.value)]", "gridOpacity": {"condition": {"test": "datum.value === 0 || datum.value === 366", "value": 0}, "value": 1}}},
  "x2": {"field": "d1"},
  "y": {"field": "y0", "type": "quantitative", "title": "latitude [deg]", "scale": {"domain": [-80, 80], "nice": false, "zero": false},
        "axis": {"values": [-80,-60,-40,-20,0,20,40,60,80], "labelExpr": "'' + datum.value", "gridOpacity": {"condition": {"test": "datum.value === 0", "value": 0}, "value": 1}}},
  "y2": {"field": "y1"},
  "color": {"field": "v", "type": "quantitative", "scale": {"domain": [-30,-26.07,-18.69,-11.31,-3.93,0], "range": ["#00008f","#0000ff","#00ffff","#ffff00","#ff0000","#800000"], "interpolate": "rgb"},
    "legend": {"orient": "none", "legendX": 0, "legendY": 476, "direction": "horizontal", "title": null, "gradientLength": 838, "gradientThickness": 16, "values": [-30,-25,-20,-15,-10,-5,0], "labelExpr": "'' + datum.value", "labelAlign": "center", "labelOffset": 8, "gradientStrokeColor": "#999999", "gradientStrokeWidth": 1, "labelOverlap": false, "encode": {"labels": {"update": {"align": {"value": "center"}}}}}},
  "stroke": {"field": "v", "type": "quantitative", "scale": {"domain": [-30,-26.07,-18.69,-11.31,-3.93,0], "range": ["#00008f","#0000ff","#00ffff","#ffff00","#ff0000","#800000"], "interpolate": "rgb"}, "legend": null}
 }},
{"data": {"values": [{}]}, "mark": {"type": "rect", "color": "#edf3ea"}, "encoding": {"x": {"datum": 175.6}, "x2": {"datum": 191.2}, "y": {"datum": -71.6}, "y2": {"datum": -78.5}}},
{"data": {"values": [{}]}, "mark": {"type": "text", "fontSize": 11.5, "color": "#262626", "font": "DejaVu Sans"}, "encoding": {"x": {"datum": 183.4}, "y": {"datum": -75.1}, "text": {"value": "2016"}}},
{"data": {"values": [{}]}, "mark": {"type": "rule", "color": "#000000", "strokeWidth": 3}, "encoding": {"x": {"datum": 0}}},
{"data": {"values": [{}]}, "mark": {"type": "rule", "color": "#000000", "strokeWidth": 3}, "encoding": {"x": {"datum": 366}}},
{"data": {"values": [{}]}, "mark": {"type": "rule", "color": "#000000", "strokeWidth": 3.5}, "encoding": {"y": {"datum": 0}}},
{"data": {"name": "p1k"}, "mark": {"type": "line", "color": "#000000", "strokeWidth": 3, "clip": true}, "encoding": {"x": {"field": "d", "type": "quantitative", "title": "time"}, "y": {"field": "lat", "type": "quantitative", "title": "latitude [deg]"}, "detail": {"field": "s"}, "order": {"value": null}}},
{"data": {"name": "p1d"}, "mark": {"type": "line", "color": "#000000", "strokeWidth": 3, "strokeDash": [10, 4], "clip": true}, "encoding": {"x": {"field": "d", "type": "quantitative", "title": "time"}, "y": {"field": "lat", "type": "quantitative", "title": "latitude [deg]"}, "detail": {"field": "s"}, "order": {"value": null}}},
{"data": {"name": "p1b"}, "mark": {"type": "line", "color": "#0000ff", "strokeWidth": 3, "clip": true}, "encoding": {"x": {"field": "d", "type": "quantitative", "title": "time"}, "y": {"field": "lat", "type": "quantitative", "title": "latitude [deg]"}, "detail": {"field": "s"}, "order": {"value": null}}},
{"data": {"name": "p1m"}, "mark": {"type": "line", "color": "#ff00ff", "strokeWidth": 3, "clip": true}, "encoding": {"x": {"field": "d", "type": "quantitative", "title": "time"}, "y": {"field": "lat", "type": "quantitative", "title": "latitude [deg]"}, "detail": {"field": "s"}, "order": {"value": null}}}
]
},
{
"width": 838, "height": 411,
"title": {"text": "Model Sun Glint EAF-FoV (Tx+Ty)/2 Desc Passes [dBK]"},
"layer": [
{"data": {"name": "h2"}, "mark": {"type": "rect", "strokeWidth": 0.6},
 "encoding": {
  "x": {"field": "d0", "type": "quantitative", "title": "time", "scale": {"domain": [0, 366], "nice": false, "zero": false},
        "axis": {"values": [0,31,60,91,121,152,182,213,244,274,305,335,366], "labelExpr": "['Jan','Feb','Mar','Apr','May','Jun','Jul','Aug','Sep','Oct','Nov','Dec','Jan'][indexof([0,31,60,91,121,152,182,213,244,274,305,335,366], datum.value)]", "gridOpacity": {"condition": {"test": "datum.value === 0 || datum.value === 366", "value": 0}, "value": 1}}},
  "x2": {"field": "d1"},
  "y": {"field": "y0", "type": "quantitative", "title": "latitude [deg]", "scale": {"domain": [-80, 80], "nice": false, "zero": false},
        "axis": {"values": [-80,-60,-40,-20,0,20,40,60,80], "labelExpr": "'' + datum.value", "gridOpacity": {"condition": {"test": "datum.value === 0", "value": 0}, "value": 1}}},
  "y2": {"field": "y1"},
  "color": {"field": "v", "type": "quantitative", "scale": {"domain": [-30,-26.07,-18.69,-11.31,-3.93,0], "range": ["#00008f","#0000ff","#00ffff","#ffff00","#ff0000","#800000"], "interpolate": "rgb"},
    "legend": {"orient": "none", "legendX": 0, "legendY": 476, "direction": "horizontal", "title": null, "gradientLength": 838, "gradientThickness": 16, "values": [-30,-25,-20,-15,-10,-5,0], "labelExpr": "'' + datum.value", "labelAlign": "center", "labelOffset": 8, "gradientStrokeColor": "#999999", "gradientStrokeWidth": 1, "labelOverlap": false, "encode": {"labels": {"update": {"align": {"value": "center"}}}}}},
  "stroke": {"field": "v", "type": "quantitative", "scale": {"domain": [-30,-26.07,-18.69,-11.31,-3.93,0], "range": ["#00008f","#0000ff","#00ffff","#ffff00","#ff0000","#800000"], "interpolate": "rgb"}, "legend": null}
 }},
{"data": {"values": [{}]}, "mark": {"type": "rect", "color": "#edf3ea"}, "encoding": {"x": {"datum": 175.6}, "x2": {"datum": 191.2}, "y": {"datum": -71.6}, "y2": {"datum": -78.5}}},
{"data": {"values": [{}]}, "mark": {"type": "text", "fontSize": 11.5, "color": "#262626", "font": "DejaVu Sans"}, "encoding": {"x": {"datum": 183.4}, "y": {"datum": -75.1}, "text": {"value": "2016"}}},
{"data": {"values": [{}]}, "mark": {"type": "rule", "color": "#000000", "strokeWidth": 3}, "encoding": {"x": {"datum": 0}}},
{"data": {"values": [{}]}, "mark": {"type": "rule", "color": "#000000", "strokeWidth": 3}, "encoding": {"x": {"datum": 366}}},
{"data": {"values": [{}]}, "mark": {"type": "rule", "color": "#000000", "strokeWidth": 3.5}, "encoding": {"y": {"datum": 0}}},
{"data": {"name": "p2k"}, "mark": {"type": "line", "color": "#000000", "strokeWidth": 3, "clip": true}, "encoding": {"x": {"field": "d", "type": "quantitative", "title": "time"}, "y": {"field": "lat", "type": "quantitative", "title": "latitude [deg]"}, "detail": {"field": "s"}, "order": {"value": null}}},
{"data": {"name": "p2b"}, "mark": {"type": "line", "color": "#0000ff", "strokeWidth": 3, "clip": true}, "encoding": {"x": {"field": "d", "type": "quantitative", "title": "time"}, "y": {"field": "lat", "type": "quantitative", "title": "latitude [deg]"}, "detail": {"field": "s"}, "order": {"value": null}}},
{"data": {"name": "p2m"}, "mark": {"type": "line", "color": "#ff00ff", "strokeWidth": 3, "clip": true}, "encoding": {"x": {"field": "d", "type": "quantitative", "title": "time"}, "y": {"field": "lat", "type": "quantitative", "title": "latitude [deg]"}, "detail": {"field": "s"}, "order": {"value": null}}}
]
}
]
}
